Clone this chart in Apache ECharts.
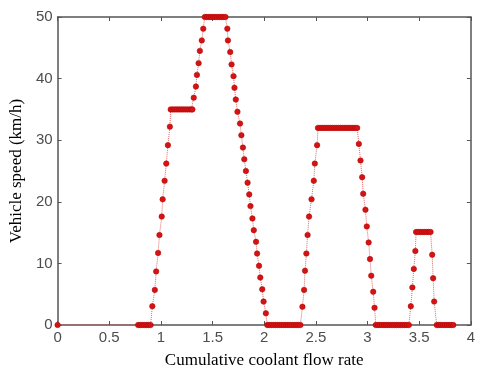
<!DOCTYPE html>
<html>
<head>
<meta charset="utf-8">
<script src="https://cdn.jsdelivr.net/npm/echarts@6/dist/echarts.min.js"></script>
<style>
  html, body { margin: 0; padding: 0; background: #fff; }
  #chart { width: 478px; height: 374px; }
</style>
</head>
<body>
<div id="chart"></div>
<script>
// x = cumulative coolant flow rate, y = vehicle speed (km/h)
var flowX = [
    0,
    0.78, 0.80, 0.82, 0.84, 0.86, 0.88, 0.90,
    0.917, 0.941, 0.954, 0.973, 0.986, 1.008, 1.017, 1.036, 1.052, 1.068, 1.087,
    1.095, 1.115, 1.135, 1.155, 1.175, 1.195, 1.215, 1.235, 1.255, 1.275, 1.295, 1.305,
    1.318, 1.339, 1.349, 1.365, 1.377, 1.396, 1.41,
    1.425, 1.445, 1.465, 1.485, 1.505, 1.525, 1.545, 1.565, 1.585, 1.605, 1.625,
    1.643, 1.649, 1.671, 1.684, 1.703, 1.712, 1.725, 1.741, 1.766, 1.779, 1.794, 1.807, 1.823,
    1.839, 1.855, 1.867, 1.886, 1.899, 1.921, 1.931, 1.95, 1.962, 1.981, 1.994, 2.016,
    2.03, 2.05, 2.07, 2.09, 2.11, 2.13, 2.15, 2.17, 2.19, 2.21, 2.23, 2.25, 2.27, 2.29, 2.31, 2.33, 2.35,
    2.37, 2.386, 2.395, 2.408, 2.42, 2.434, 2.458, 2.48, 2.49, 2.512,
    2.52, 2.54, 2.56, 2.58, 2.60, 2.62, 2.64, 2.66, 2.68, 2.70, 2.72, 2.74, 2.76, 2.78, 2.80, 2.82, 2.84, 2.86, 2.88, 2.90,
    2.916, 2.932, 2.948, 2.958, 2.98, 2.993, 3.011, 3.024, 3.036, 3.055, 3.068,
    3.08, 3.10, 3.12, 3.14, 3.16, 3.18, 3.20, 3.22, 3.24, 3.26, 3.28, 3.30, 3.32, 3.34, 3.36, 3.38, 3.40,
    3.419, 3.434, 3.448, 3.463,
    3.47, 3.49, 3.51, 3.53, 3.55, 3.57, 3.59, 3.61,
    3.626, 3.635, 3.645,
    3.67, 3.69, 3.71, 3.73, 3.75, 3.77, 3.79, 3.81, 3.83
];
var speedY = [
    0,
    0, 0, 0, 0, 0, 0, 0,
    3.05, 5.7, 8.7, 11.7, 14.6, 17.6, 20.4, 23.4, 26.2, 29.2, 32.2,
    35, 35, 35, 35, 35, 35, 35, 35, 35, 35, 35, 35,
    36.9, 38.7, 40.6, 42.5, 44.5, 46.2, 48.1,
    50, 50, 50, 50, 50, 50, 50, 50, 50, 50, 50,
    48.1, 46.2, 44.3, 42.3, 40.4, 38.5, 36.6, 34.6, 32.7, 30.8, 28.8, 26.9, 25,
    23.1, 21.2, 19.3, 17.3, 15.4, 13.5, 11.6, 9.6, 7.7, 5.8, 3.8, 1.9,
    0, 0, 0, 0, 0, 0, 0, 0, 0, 0, 0, 0, 0, 0, 0, 0, 0,
    2.95, 5.7, 8.8, 11.6, 14.6, 17.6, 20.4, 23.4, 26.2, 29.2,
    32, 32, 32, 32, 32, 32, 32, 32, 32, 32, 32, 32, 32, 32, 32, 32, 32, 32, 32, 32,
    29.4, 26.7, 24.0, 21.3, 18.7, 16, 13.4, 10.7, 8.0, 5.4, 2.8,
    0, 0, 0, 0, 0, 0, 0, 0, 0, 0, 0, 0, 0, 0, 0, 0, 0,
    3.05, 6.1, 9.1, 12.0,
    15.1, 15.1, 15.1, 15.1, 15.1, 15.1, 15.1, 15.1,
    11.4, 7.6, 3.8,
    0, 0, 0, 0, 0, 0, 0, 0, 0
];
var xTicks = { min: 0, max: 4, interval: 0.5 };
var yTicks = { min: 0, max: 50, interval: 10 };

var points = [];
for (var i = 0; i < flowX.length; i++) {
    points.push([flowX[i], speedY[i]]);
}

var axisGray = '#555555';
var tickFont = { color: '#4d4d4d', fontSize: 15, fontFamily: 'Liberation Sans' };
var nameFont = { color: '#000', fontSize: 17, fontFamily: 'Liberation Serif' };

// matlab style box: all four sides, ticks pointing in
var frameAxis = {
    axisLine: { show: true, onZero: false, lineStyle: { color: axisGray, width: 1.5 } },
    axisTick: { show: true, inside: true, length: 4, lineStyle: { color: axisGray } },
    splitLine: { show: false }
};

var chart = echarts.init(document.getElementById('chart'), null, { renderer: 'canvas' });
chart.setOption({
    animation: false,
    grid: { left: 55, right: 1, top: 17, bottom: 45, containLabel: false },
    xAxis: [
        Object.assign({
            type: 'value', position: 'bottom',
            min: xTicks.min, max: xTicks.max, interval: xTicks.interval,
            name: 'Cumulative coolant flow rate', nameLocation: 'middle', nameGap: 27,
            nameTextStyle: nameFont,
            axisLabel: Object.assign({ margin: 5 }, tickFont)
        }, frameAxis),
        Object.assign({
            type: 'value', position: 'top',
            min: xTicks.min, max: xTicks.max, interval: xTicks.interval,
            axisLabel: { show: false }
        }, frameAxis)
    ],
    yAxis: [
        Object.assign({
            type: 'value', position: 'left',
            min: yTicks.min, max: yTicks.max, interval: yTicks.interval,
            name: 'Vehicle speed (km/h)', nameLocation: 'middle', nameGap: 30,
            nameTextStyle: nameFont,
            axisLabel: Object.assign({ margin: 5 }, tickFont)
        }, frameAxis),
        Object.assign({
            type: 'value', position: 'right',
            min: yTicks.min, max: yTicks.max, interval: yTicks.interval,
            axisLabel: { show: false }
        }, frameAxis)
    ],
    series: [{
        type: 'line',
        data: points,
        symbol: 'circle',
        symbolSize: 5.5,
        showSymbol: true,
        clip: false,
        itemStyle: { color: '#d41414', borderColor: '#b00000', borderWidth: 0.5 },
        lineStyle: { color: '#e04040', width: 1, type: 'dotted', opacity: 0.8 }
    }]
});
</script>
</body>
</html>
